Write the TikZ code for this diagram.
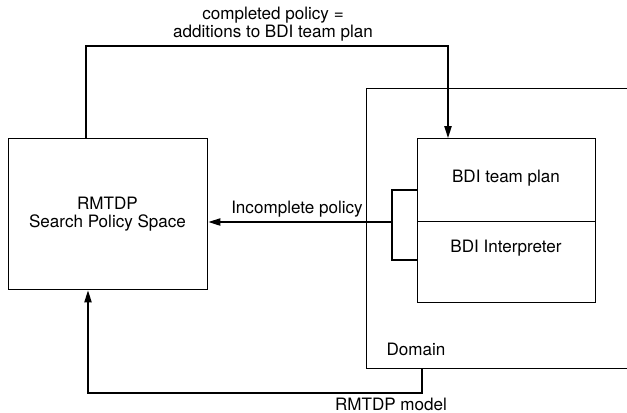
\documentclass[tikz,border=0pt]{standalone}
\usepackage{fontspec}
\setmainfont{TeX Gyre Heros}
\usetikzlibrary{arrows.meta}
\begin{document}
\begin{tikzpicture}[x=0.75pt,y=-0.75pt,
  line width=1.1pt,
  every node/.style={font=\fontsize{12.8pt}{13.6pt}\selectfont},
  box/.style={draw, rectangle, inner sep=0pt, anchor=north west},
  txt/.style={inner sep=0pt, align=center},
  arr/.style={-{Triangle[length=9pt,width=5.5pt]}}]
\useasboundingbox (0,0) rectangle (627,412);
\clip (0,0) rectangle (627,412);
% boxes
\node[box, minimum width=149.25pt, minimum height=113.25pt] (lbox) at (8,138) {};
\node[txt] (lboxtext) at (107.5,214) {RMTDP\\Search Policy Space};
\node[box, minimum width=225pt, minimum height=210pt] (domain) at (366,88) {};
\node[txt] (domaintext) at (416,349) {Domain};
\node[box, minimum width=133.5pt, minimum height=62.25pt] (plan) at (417,138) {};
\node[txt] (plantext) at (506,178) {BDI team plan};
\node[box, minimum width=133.5pt, minimum height=60.75pt] (interp) at (417,221) {};
\node[txt] (interptext) at (506,248) {BDI Interpreter};
% bracket
\coordinate (bt) at (392,190);
\coordinate (bb) at (392,260);
\coordinate (bk) at (392,222);
\draw (bt -| plan.west) -- (bt) -- (bb) -- (bb -| plan.west);
\draw[arr] (bk) -- (bk -| lbox.east);
\node[txt] (inclabel) at (297,209) {Incomplete policy};
% top connector
\coordinate (tl) at (86,46);
\coordinate (tr) at (448,46);
\draw[arr] (tl |- lbox.north) -- (tl) -- (tr) -- (tr |- plan.north);
\node[txt] (toplabel) at (273,24) {completed policy =\\additions to BDI team plan};
% bottom connector
\coordinate (bl) at (88,393);
\coordinate (br) at (422,393);
\draw[arr] (br |- domain.south) -- (br) -- (bl) -- (bl |- lbox.south);
\node[txt] (botlabel) at (391,404) {RMTDP model};
\end{tikzpicture}
\end{document}
